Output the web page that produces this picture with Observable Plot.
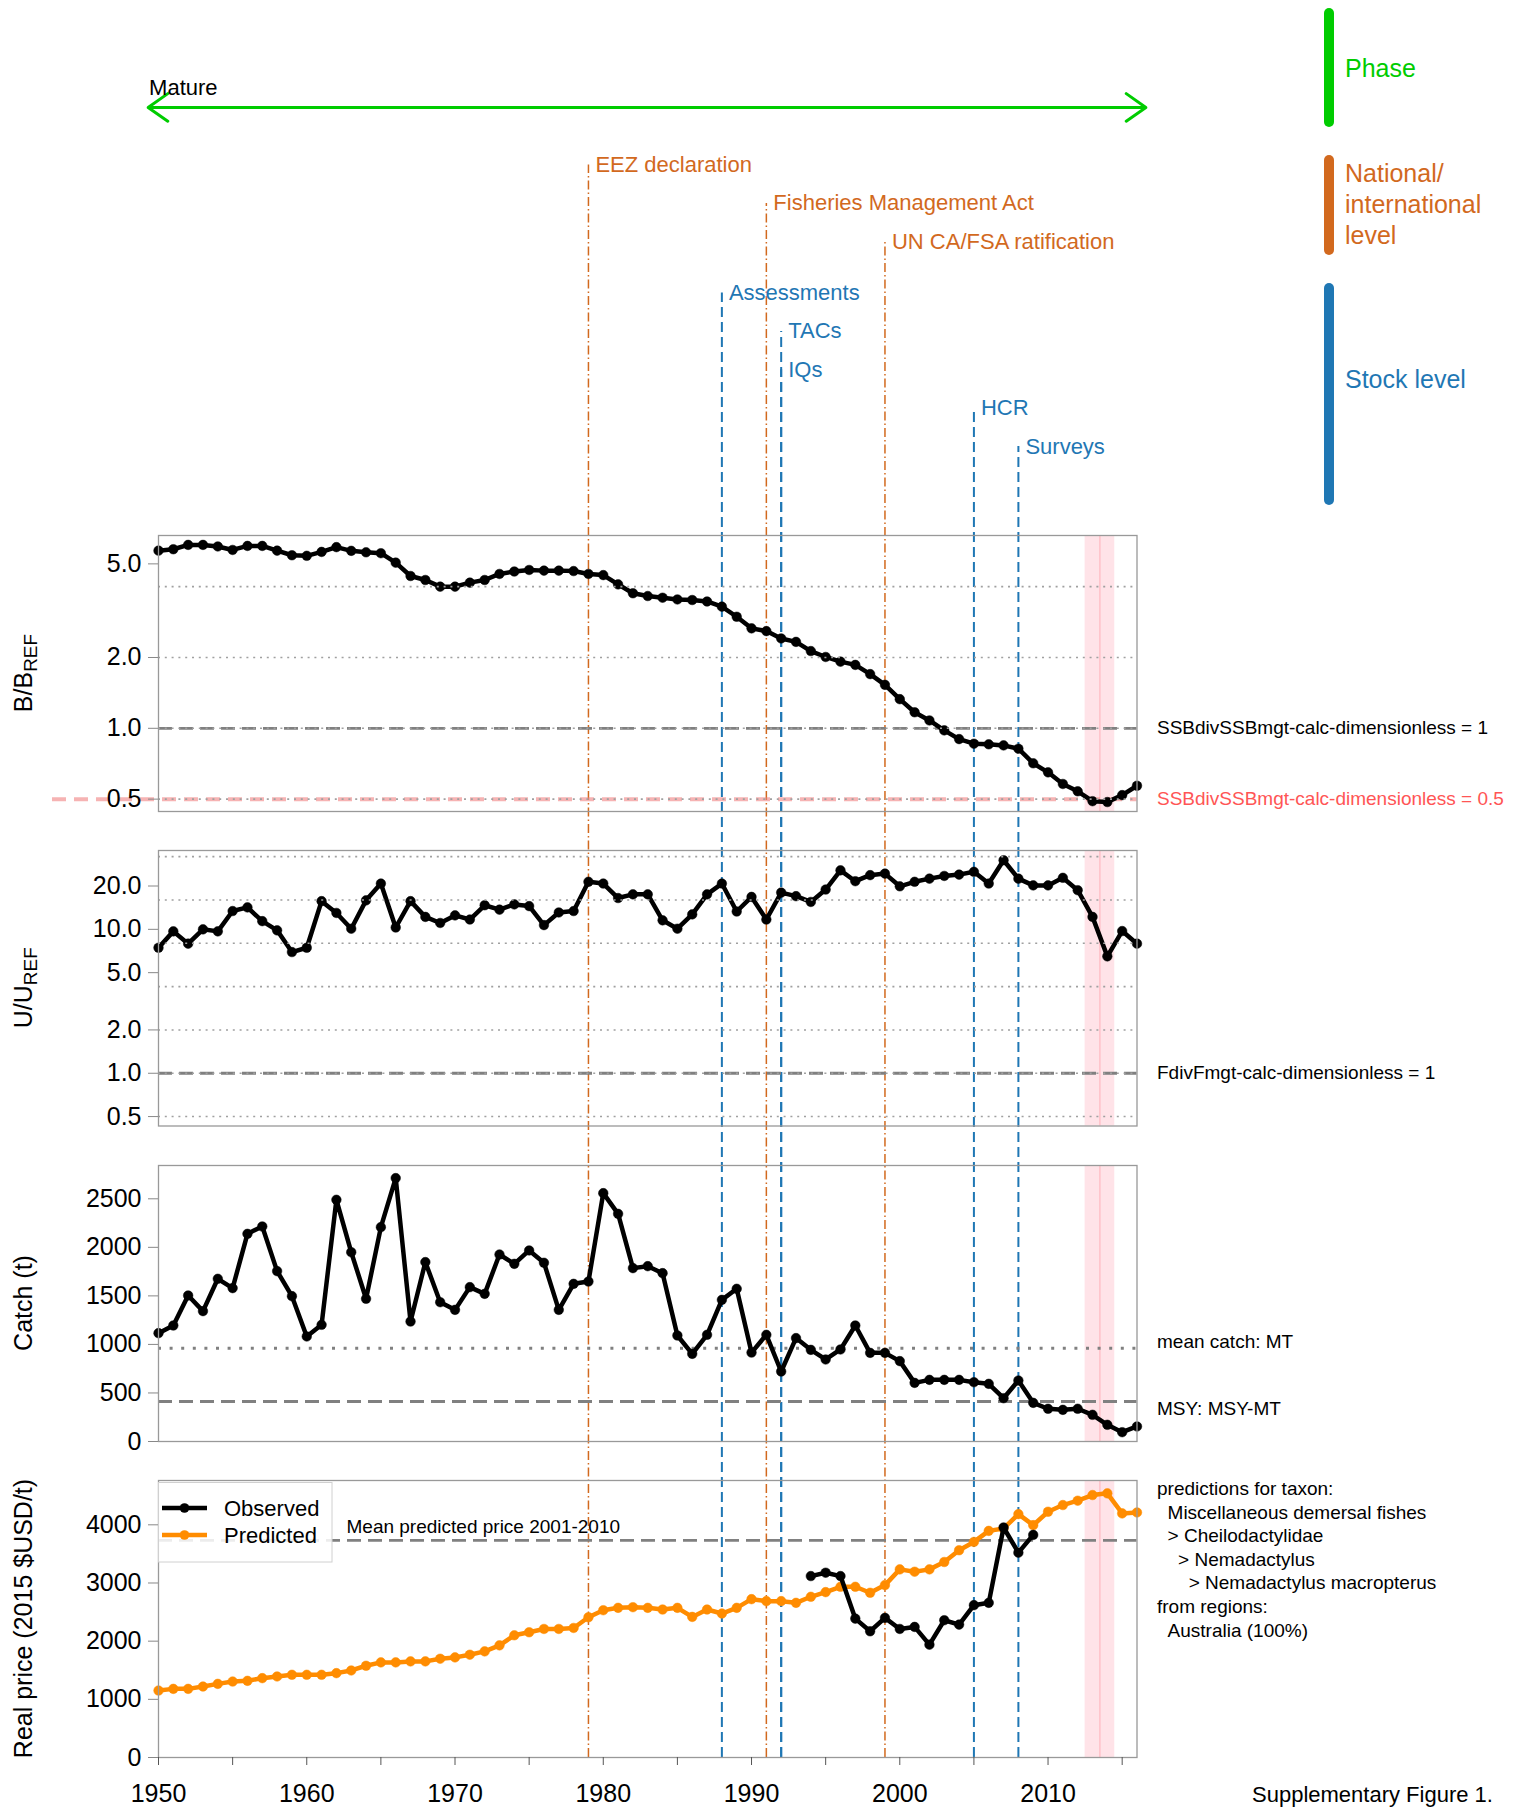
<!DOCTYPE html>
<html>
<head>
<meta charset="utf-8">
<script src="https://cdn.jsdelivr.net/npm/d3@7"></script>
<script src="https://cdn.jsdelivr.net/npm/@observablehq/plot@0.6"></script>
<style>
  html, body { margin: 0; padding: 0; background: #fff; }
  #fig { position: relative; width: 1523px; height: 1809px; overflow: hidden;
         font-family: "Liberation Sans", Arial, Helvetica, sans-serif; color: #000; }
  #fig svg { position: absolute; left: 0; }
  .abs { position: absolute; white-space: nowrap; }
</style>
</head>
<body>
<div id="fig"></div>
<script>
// ================= DATA =================
const firstYear = 1950;
// B / B_REF, 1950..2016
const bRatio = [5.69, 5.77, 6.02, 6.02, 5.93, 5.73, 5.96, 5.96, 5.69, 5.44,
                5.41, 5.62, 5.89, 5.68, 5.60, 5.55, 5.06, 4.44, 4.27, 4.00,
                4.00, 4.16, 4.27, 4.53, 4.64, 4.71, 4.68, 4.68, 4.66, 4.53,
                4.48, 4.09, 3.75, 3.65, 3.59, 3.53, 3.51, 3.46, 3.29, 2.98,
                2.66, 2.59, 2.41, 2.33, 2.13, 2.01, 1.92, 1.86, 1.70, 1.53,
                1.33, 1.17, 1.08, 0.98, 0.90, 0.86, 0.855, 0.846, 0.819, 0.71,
                0.65, 0.58, 0.54, 0.49, 0.486, 0.52, 0.57];
// U / U_REF, 1950..2016
const uRatio = [7.45, 9.68, 7.95, 10.0, 9.68, 13.4, 14.2, 11.4, 9.84, 6.95,
                7.45, 15.7, 13.0, 10.1, 15.9, 20.8, 10.3, 15.7, 12.2, 11.07,
                12.5, 11.7, 14.7, 13.7, 14.9, 14.5, 10.7, 13.1, 13.4, 21.4,
                20.8, 16.5, 17.5, 17.5, 11.55, 10.1, 12.7, 17.5, 20.8, 13.3,
                16.8, 11.7, 18.0, 17.0, 15.5, 18.9, 25.7, 21.6, 23.8, 24.4,
                19.9, 21.4, 22.5, 23.5, 24.0, 25.1, 20.8, 30.2, 22.5, 20.2,
                20.2, 22.8, 18.7, 12.2, 6.49, 9.73, 7.95];
// Catch (t), 1950..2016
const catchT = [1116, 1195, 1504, 1343, 1676, 1580, 2139, 2215, 1755, 1497,
                1082, 1202, 2490, 1950, 1470, 2208, 2713, 1236, 1848, 1435,
                1356, 1590, 1521, 1926, 1830, 1968, 1841, 1356, 1624, 1648,
                2558, 2345, 1786, 1806, 1734, 1092, 903, 1099, 1459, 1573,
                916, 1099, 721, 1065, 944, 845, 948, 1195, 913, 913,
                828, 604, 635, 635, 635, 611, 594, 446, 628, 398,
                337, 326, 337, 275, 172, 96, 155];
// Predicted real price (2015 $USD/t), 1950..2016
const pricePred = [1151, 1180, 1180, 1220, 1266, 1306, 1318, 1364, 1393, 1422,
                   1422, 1422, 1450, 1496, 1577, 1635, 1635, 1652, 1652, 1698,
                   1721, 1767, 1824, 1928, 2101, 2153, 2210, 2210, 2227, 2411,
                   2532, 2573, 2584, 2573, 2544, 2573, 2417, 2544, 2475, 2573,
                   2722, 2688, 2688, 2659, 2763, 2843, 2935, 2935, 2832, 2964,
                   3234, 3194, 3234, 3361, 3563, 3706, 3896, 3937, 4184, 3994,
                   4225, 4340, 4415, 4512, 4541, 4196, 4213];
// Observed real price, 1994..2009
const obsFirstYear = 1994;
const priceObs = [3119, 3177, 3119, 2388, 2170, 2400, 2210, 2245, 1940, 2360,
                  2285, 2619, 2659, 3954, 3522, 3827];

// reference values
const bTicks = [0.5, 1, 2, 5];
const bGrid = [0.5, 1, 2, 4];
const bTarget = [1];
const bLimit = [0.5];
const uTicks = [0.5, 1, 2, 5, 10, 20];
const uGrid = [0.5, 1, 2, 4, 8, 16, 32];
const uTarget = [1];
const catchTicks = [0, 500, 1000, 1500, 2000, 2500];
const meanCatch = [961];
const msyCatch = [412];
const priceTicks = [0, 1000, 2000, 3000, 4000];
const meanPrice = [3731];
const xTicks = [1950, 1955, 1960, 1965, 1970, 1975, 1980, 1985, 1990, 1995, 2000, 2005, 2010, 2015];
const xTickLabels = ["1950", "", "1960", "", "1970", "", "1980", "", "1990", "", "2000", "", "2010", ""];

// management events
const eventLabels = ["EEZ declaration", "Fisheries Management Act", "UN CA/FSA ratification",
                     "Assessments", "TACs", "IQs", "HCR", "Surveys"];
const eventYears = [1979, 1991, 1999, 1988, 1992, 1992, 2005, 2008];
const eventLevels = ["national", "national", "national", "stock", "stock", "stock", "stock", "stock"];

// phase
const phaseNames = ["Mature"];
const phaseStart = [1949.3];
const phaseEnd = [2016.6];

// highlighted years
const bandStart = [2012.5];
const bandEnd = [2014.5];
const bandMid = [2013.5];

// texts
const bRefLabels = ["SSBdivSSBmgt-calc-dimensionless = 1", "SSBdivSSBmgt-calc-dimensionless = 0.5"];
const uRefLabels = ["FdivFmgt-calc-dimensionless = 1"];
const catchRefLabels = ["mean catch: MT", "MSY: MSY-MT"];
const priceRefLabel = "Mean predicted price 2001-2010";
const taxonLines = ["predictions for taxon:", "  Miscellaneous demersal fishes", "  > Cheilodactylidae",
                    "    > Nemadactylus", "      > Nemadactylus macropterus", "from regions:", "  Australia (100%)"];
const legendLabels = ["Observed", "Predicted"];
const sideLegendLines = [["Phase"], ["National/", "international", "level"], ["Stock level"]];
const figureNote = "Supplementary Figure 1.";

// ================= LAYOUT / STYLE =================
const FONT = '"Liberation Sans", Arial, Helvetica, sans-serif';
const W = 1523;
const X_LEFT = 158, X_RIGHT = 1136.5;
const X_DOMAIN = [1950, 2016];
const GREEN = "#00cc00", ORANGE = "#d2691e", BLUE = "#1f77b4", PRICE_ORANGE = "#ff8c00", LIMIT_RED = "#ff5555";
const LIMIT_X1 = 1942.85; // the limit line reaches past the axis on the left
const PANELS = {
  b: {top: 535, bottom: 811},
  u: {top: 850, bottom: 1125.5},
  c: {top: 1165, bottom: 1441},
  p: {top: 1480, bottom: 1757}
};
const ROW0_PX = 164.5, ROW_PX = 38.4, GROUP_GAP = 1 / 3;
const PHASE_ARROW_ROW = -1.5, PHASE_LABEL_ROW = -2.0;

const fig = document.getElementById("fig");

const yearly = bRatio.map((b, i) => ({year: firstYear + i, b, u: uRatio[i], c: catchT[i], p: pricePred[i]}));
const observed = priceObs.map((v, i) => ({year: obsFirstYear + i, v}));
const events = eventLabels.map((label, i) => ({
  label, year: eventYears[i], level: eventLevels[i],
  row: i + (eventLevels[i] === "stock" ? GROUP_GAP : 0)
}));
const phases = phaseNames.map((name, i) => ({name, start: phaseStart[i], end: phaseEnd[i], mid: (phaseStart[i] + phaseEnd[i]) / 2}));
const bands = bandStart.map((s, i) => ({s, e: bandEnd[i]}));

// ================= BACKGROUND: phase + event lines =================
const ANN_H = PANELS.p.bottom;
const ROW_TOP = -ROW0_PX / ROW_PX, ROW_BOTTOM = (ANN_H - ROW0_PX) / ROW_PX;
const annot = Plot.plot({
  width: W, height: ANN_H,
  marginTop: 0, marginBottom: 0, marginLeft: X_LEFT, marginRight: W - X_RIGHT,
  x: {domain: X_DOMAIN, axis: null},
  y: {domain: [ROW_TOP, ROW_BOTTOM], range: [0, ANN_H], axis: null},
  style: {background: "transparent", fontFamily: FONT, fontSize: "22px", overflow: "visible"},
  marks: [
    // drawn bottom-up so that coincident lines share the same dash phase
    Plot.ruleX(events.filter(d => d.level === "national"), {x: "year", y1: ROW_BOTTOM, y2: "row", stroke: ORANGE, strokeWidth: 1.5, strokeDasharray: "9,3,1.5,3"}),
    Plot.ruleX(events.filter(d => d.level === "stock"), {x: "year", y1: ROW_BOTTOM, y2: "row", stroke: BLUE, strokeWidth: 2, strokeDasharray: "10,5"}),
    Plot.text(events.filter(d => d.level === "national"), {x: "year", y: "row", text: "label", fill: ORANGE, textAnchor: "start", dx: 7, fontSize: 22}),
    Plot.text(events.filter(d => d.level === "stock"), {x: "year", y: "row", text: "label", fill: BLUE, textAnchor: "start", dx: 7, fontSize: 22}),
    Plot.arrow(phases, {x1: "mid", x2: "start", y1: PHASE_ARROW_ROW, y2: PHASE_ARROW_ROW, stroke: GREEN, strokeWidth: 3, headLength: 12, headAngle: 70}),
    Plot.arrow(phases, {x1: "mid", x2: "end", y1: PHASE_ARROW_ROW, y2: PHASE_ARROW_ROW, stroke: GREEN, strokeWidth: 3, headLength: 12, headAngle: 70}),
    Plot.text(phases, {x: "start", y: PHASE_LABEL_ROW, text: "name", fill: "#000", textAnchor: "start", dx: 1, fontSize: 22})
  ]
});
annot.style.top = "0px";
fig.appendChild(annot);

// ================= PANELS =================
const MT = 12;
function addPanel(key, yOpts, marks, marginBottom = 12) {
  const {top, bottom} = PANELS[key];
  const svg = Plot.plot({
    width: W, height: bottom - top + MT + marginBottom,
    marginTop: MT, marginBottom, marginLeft: X_LEFT, marginRight: W - X_RIGHT,
    x: {domain: X_DOMAIN, axis: null},
    y: {...yOpts, axis: null},
    style: {background: "transparent", fontFamily: FONT, fontSize: "25px", overflow: "visible", color: "#000"},
    marks
  });
  svg.style.top = (top - MT) + "px";
  fig.appendChild(svg);
  return svg;
}
function yTitle(svg, key, main, sub, baselineX) {
  const {top, bottom} = PANELS[key];
  const cy = MT + (bottom - top) / 2;
  const t = d3.select(svg).append("text")
    .attr("transform", `translate(${baselineX},${cy}) rotate(-90)`)
    .attr("text-anchor", "middle")
    .attr("font-size", 25)
    .attr("font-family", FONT)
    .attr("fill", "#000");
  t.append("tspan").text(main);
  if (sub) t.append("tspan").attr("font-size", 19).attr("dy", "0.3em").text(sub);
}
const bandMarks = () => [
  Plot.rect(bands, {x1: "s", x2: "e", fill: "#ffc0cb", fillOpacity: 0.45}),
  Plot.ruleX(bandMid, {stroke: "#ffb0b8", strokeWidth: 1})
];
const yAxis = (ticks, fmt) => Plot.axisY({ticks, tickFormat: fmt, tickSize: 10, tickPadding: 7, stroke: "#888", fill: "#000", fontSize: 25, label: null});
const frame = () => Plot.frame({stroke: "#999", strokeWidth: 1.3});
const gridDots = (vals) => Plot.ruleY(vals, {stroke: "#a0a0a0", strokeWidth: 1.6, strokeDasharray: "2,4.8"});
const dashed = (vals) => Plot.ruleY(vals, {stroke: "#808080", strokeWidth: 2.8, strokeDasharray: "14,7"});
const series = (data, x, y, color) => [
  Plot.line(data, {x, y, stroke: color, strokeWidth: 4.5, strokeLinejoin: "round"}),
  Plot.dot(data, {x, y, r: 4.8, fill: color, stroke: color, strokeWidth: 0.5})
];
const sideText = (data, opts = {}) => Plot.text(data, {y: "v", text: "t", frameAnchor: "right", textAnchor: "start", dx: 20, fontSize: 19, fill: "#000", ...opts});

// Panel 1: B/B_REF
const p1 = addPanel("b", {type: "log", domain: [0.443, 6.6]}, [
  ...bandMarks(),
  Plot.ruleY(bLimit, {x1: LIMIT_X1, x2: X_DOMAIN[1], stroke: "#f08080", strokeOpacity: 0.6, strokeWidth: 4, strokeDasharray: "14,8"}),
  dashed(bTarget),
  ...series(yearly, "year", "b", "#000"),
  gridDots(bGrid),
  frame(),
  yAxis(bTicks, ".1f"),
  sideText([{v: bTarget[0], t: bRefLabels[0]}]),
  sideText([{v: bLimit[0], t: bRefLabels[1]}], {fill: LIMIT_RED})
]);
yTitle(p1, "b", "B/B", "REF", 31.5);

// Panel 2: U/U_REF
const p2 = addPanel("u", {type: "log", domain: [0.43, 35.3]}, [
  ...bandMarks(),
  dashed(uTarget),
  ...series(yearly, "year", "u", "#000"),
  gridDots(uGrid),
  frame(),
  yAxis(uTicks, ".1f"),
  sideText([{v: uTarget[0], t: uRefLabels[0]}])
]);
yTitle(p2, "u", "U/U", "REF", 31.5);

// Panel 3: Catch
const p3 = addPanel("c", {type: "linear", domain: [0, 2843]}, [
  ...bandMarks(),
  Plot.ruleY(meanCatch, {stroke: "#808080", strokeWidth: 3, strokeDasharray: "3,8.6"}),
  dashed(msyCatch),
  ...series(yearly, "year", "c", "#000"),
  frame(),
  yAxis(catchTicks, "d"),
  sideText([{v: meanCatch[0], t: catchRefLabels[0]}], {dy: -6}),
  sideText([{v: msyCatch[0], t: catchRefLabels[1]}], {dy: 7})
]);
yTitle(p3, "c", "Catch (t)", null, 32);

// Panel 4: Price
const p4 = addPanel("p", {type: "linear", domain: [0, 4762]}, [
  ...bandMarks(),
  dashed(meanPrice),
  ...series(yearly, "year", "p", PRICE_ORANGE),
  ...series(observed, "year", "v", "#000"),
  frame(),
  yAxis(priceTicks, "d"),
  Plot.axisX({ticks: xTicks, tickFormat: d => xTickLabels[xTicks.indexOf(d)], tickSize: 8, tickPadding: 19,
              stroke: "#555", fill: "#000", fontSize: 25, label: null}),
  Plot.text([priceRefLabel], {text: d => d, y: meanPrice[0], frameAnchor: "left", textAnchor: "start", dx: 188, dy: -14, fontSize: 19, fill: "#000"}),
  Plot.text([taxonLines.map(s => s.replace(/^ +/, m => "\u00a0".repeat(m.length))).join("\n")],
            {text: d => d, frameAnchor: "top-right", textAnchor: "start", lineAnchor: "top", dx: 20, dy: -2,
             lineHeight: 1.24, fontSize: 19, fill: "#000"})
], 52);
yTitle(p4, "p", "Real price (2015 $USD/t)", null, 32);

// ---- price legend (inside the price panel) ----
{
  const lg = d3.select(fig).append("svg")
    .attr("width", 175).attr("height", 81)
    .style("left", X_LEFT + "px").style("top", (PANELS.p.top + 2) + "px");
  lg.append("rect").attr("x", 0.5).attr("y", 0.5).attr("width", 173.5).attr("height", 79.5)
    .attr("fill", "rgba(255,255,255,0.85)").attr("stroke", "#d0d0d0");
  const colors = ["#000", PRICE_ORANGE];
  legendLabels.forEach((lab, i) => {
    const y = 26 + i * 27;
    lg.append("line").attr("x1", 4).attr("x2", 49).attr("y1", y).attr("y2", y)
      .attr("stroke", colors[i]).attr("stroke-width", 4.5);
    lg.append("circle").attr("cx", 26.5).attr("cy", y).attr("r", 4.8).attr("fill", colors[i]);
    lg.append("text").attr("x", 66).attr("y", y).attr("dy", "0.35em")
      .attr("font-size", 22).attr("font-family", FONT).attr("fill", "#000").text(lab);
  });
}

// ---- side legend (top right) ----
{
  const groups = [
    {color: GREEN, y1: 8, y2: 127, textCenter: 68},
    {color: ORANGE, y1: 155, y2: 255, textCenter: 204},
    {color: BLUE, y1: 283, y2: 505, textCenter: 379}
  ];
  const LH = 31;
  groups.forEach((g, i) => {
    const bar = document.createElement("div");
    bar.className = "abs";
    Object.assign(bar.style, {left: "1324px", top: g.y1 + "px", width: "10px", height: (g.y2 - g.y1) + "px",
                              borderRadius: "5px", background: g.color});
    fig.appendChild(bar);
    const lines = sideLegendLines[i];
    const txt = document.createElement("div");
    txt.className = "abs";
    Object.assign(txt.style, {left: "1345px", top: (g.textCenter - lines.length * LH / 2) + "px",
                              fontSize: "25px", lineHeight: LH + "px", color: g.color});
    txt.innerHTML = lines.join("<br>");
    fig.appendChild(txt);
  });
}

// ---- figure note ----
{
  const note = document.createElement("div");
  note.className = "abs";
  Object.assign(note.style, {left: "1252px", top: "1782px", fontSize: "22px", lineHeight: "25px", color: "#000"});
  note.textContent = figureNote;
  fig.appendChild(note);
}
</script>
</body>
</html>
